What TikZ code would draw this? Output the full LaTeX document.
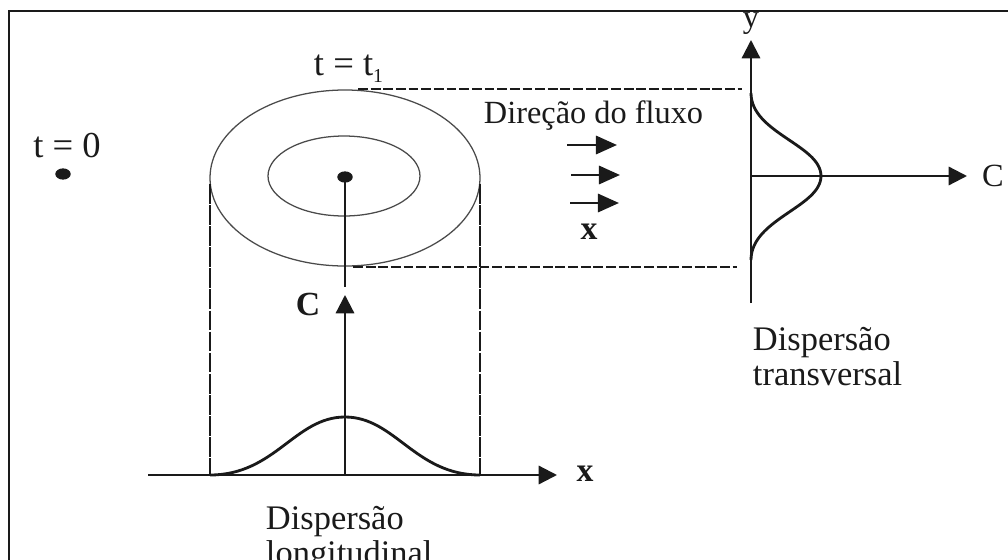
\documentclass[tikz,border=0pt]{standalone}
\usepackage{fontspec}
\setmainfont{Liberation Serif}
\usetikzlibrary{arrows.meta, positioning, shapes.geometric}
\definecolor{cink}{HTML}{1A1A1A}
\definecolor{cring}{HTML}{4A4A4A}
\tikzset{
  every picture/.style={line width=1.4pt},
  frame/.style={draw=cink, line width=1.6pt},
  axis/.style={-{Triangle[length=13pt, width=13pt]}, draw=cink, line width=1.6pt},
  flow/.style={-{Triangle[length=15pt, width=13pt]}, draw=cink, line width=1.8pt},
  guide/.style={draw=cink, line width=1.3pt, dash pattern=on 7pt off 2pt},
  side/.style={draw=cink, line width=1.4pt, dash pattern=on 14pt off 1pt},
  ring/.style={draw=cring, line width=0.9pt},
  curve/.style={draw=cink, line width=2pt},
  stem/.style={draw=cink, line width=1.6pt},
  dot/.style={ellipse, fill=cink, inner sep=0pt, minimum width=11pt, minimum height=8pt},
  lbl/.style={font=\fontsize{23}{25}\selectfont, text=cink, inner sep=0pt},
  big/.style={font=\fontsize{26}{26}\selectfont, text=cink, inner sep=0pt},
  caption/.style={font=\fontsize{24.5}{25}\selectfont, text=cink, inner sep=0pt, align=left, anchor=north west},
  axlbl/.style={font=\fontsize{24}{25}\selectfont\bfseries, text=cink, inner sep=0pt},
}
\begin{document}
\begin{tikzpicture}[x=0.025cm, y=-0.025cm]
  \useasboundingbox (0,0) rectangle (1008,560);
  \draw[frame] (9,600) -- (9,11) -- (1050,11);
  % plume at t = 0 and t = t1
  \node[dot] (src) at (63,174) {};
  \node[big] (t0) at (67,146) {t = 0};
  \draw[ring] (345,178) ellipse [x radius=135, y radius=88];
  \draw[ring] (344,176) ellipse [x radius=76, y radius=40];
  \node[dot] (mid) at (345,177) {};
  \node[big, anchor=base west] (t1) at (313,75) {t = t\raisebox{-5pt}{\fontsize{14}{14}\selectfont 1}};
  % flow direction
  \node[lbl, anchor=base west] (dir) at (483,123) {Direção do fluxo};
  \foreach \xa/\xb/\yy [count=\i] in {567/617/145, 571/620/175, 570/619/203} {
    \coordinate (fa\i) at (\xa,\yy);
    \coordinate (fb\i) at (\xb,\yy);
    \draw[flow] (fa\i) -- (fb\i);
  }
  \node[axlbl] (fx) at (589,232) {x};
  % longitudinal dispersion
  \coordinate (lo) at (345,475);
  \coordinate (lxa) at (148,475);
  \coordinate (lxb) at (557,475);
  \coordinate (lc) at (345,295);
  \coordinate (ll) at (210,475);
  \coordinate (lr) at (480,475);
  \coordinate (el) at (210,184);
  \coordinate (er) at (480,184);
  \coordinate (sb) at (345,287);
  \draw[side] (el) -- (ll);
  \draw[side] (er) -- (lr);
  \draw[stem] (mid.center) -- (sb);
  \draw[axis] (lxa) -- (lxb);
  \draw[axis] (lo) -- (lc);
  \draw[curve] (ll) .. controls (275,475) and (295,417) .. (345,417) .. controls (395,417) and (415,475) .. (lr);
  \node[axlbl] (lcl) at (308,304) {C};
  \node[axlbl] (lxl) at (585,474) {x};
  \node[caption] (dl) at (265,505) {Dispersão\\longitudinal};
  % transverse dispersion
  \coordinate (to) at (751,176);
  \coordinate (tya) at (751,303);
  \coordinate (tyb) at (751,40);
  \coordinate (tc) at (967,176);
  \coordinate (gta) at (358,89);
  \coordinate (gtb) at (742,89);
  \coordinate (gba) at (353,267);
  \coordinate (gbb) at (737,267);
  \draw[guide] (gta) -- (gtb);
  \draw[guide] (gba) -- (gbb);
  \draw[axis] (tya) -- (tyb);
  \draw[axis] (to) -- (tc);
  \draw[curve] (751,93) .. controls (751,133) and (821,145) .. (821,176) .. controls (821,207) and (751,219) .. (751,260);
  \node[lbl, anchor=base] (tyl) at (751,27) {y};
  \node[lbl] (tcl) at (993,176) {C};
  \node[caption] (dt) at (752,326) {Dispersão\\transversal};
\end{tikzpicture}
\end{document}
